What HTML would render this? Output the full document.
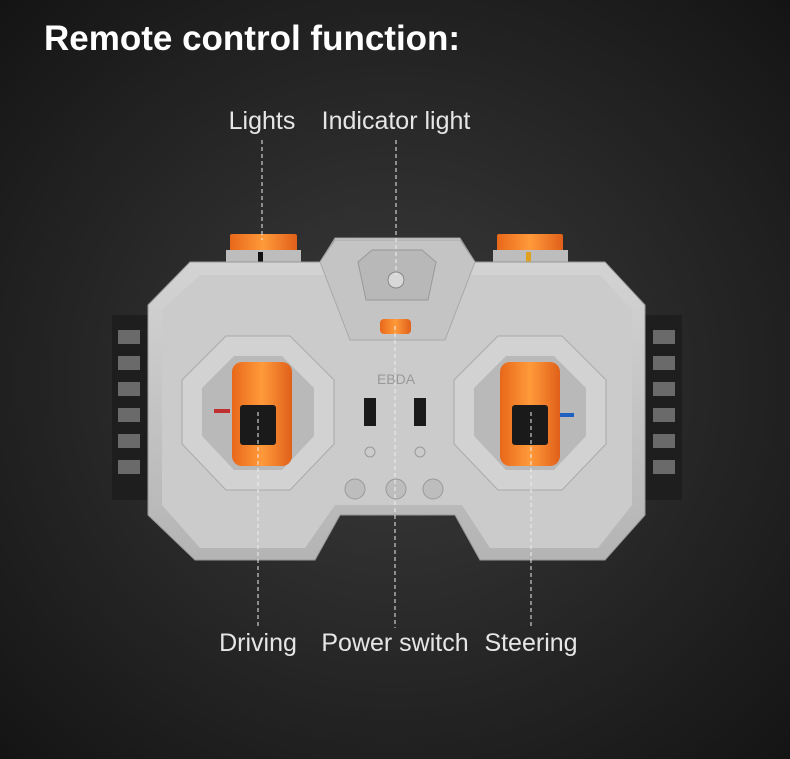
<!DOCTYPE html>
<html><head><style>
html,body{margin:0;padding:0;}
body{width:790px;height:759px;overflow:hidden;background:radial-gradient(ellipse at 50% 50%,#3c3c3c 0%,#2a2a2a 45%,#141414 100%);font-family:"Liberation Sans",sans-serif;position:relative;}
.t{position:absolute;left:44px;top:19px;color:#fff;font-weight:bold;font-size:35px;}
.l{position:absolute;color:#e6e6e6;font-size:25px;transform:translateX(-50%);white-space:nowrap;}
svg{position:absolute;left:0;top:0;}
</style></head><body>
<div class="t">Remote control function:</div>
<div class="l" style="left:262px;top:107px">Lights</div>
<div class="l" style="left:396px;top:107px">Indicator light</div>
<div class="l" style="left:258px;top:629px">Driving</div>
<div class="l" style="left:395px;top:629px">Power switch</div>
<div class="l" style="left:531px;top:629px">Steering</div>
<svg width="790" height="759" viewBox="0 0 790 759">
<defs>
<linearGradient id="g1" x1="0" y1="0" x2="0" y2="1"><stop offset="0" stop-color="#d6d6d6"/><stop offset="1" stop-color="#b4b4b4"/></linearGradient>
<linearGradient id="or" x1="0" y1="0" x2="1" y2="0"><stop offset="0" stop-color="#e8681a"/><stop offset="0.5" stop-color="#ff9a3a"/><stop offset="1" stop-color="#e0601a"/></linearGradient>
</defs>
<rect x="112" y="315" width="40" height="185" fill="#1e1e1e"/>
<rect x="640" y="315" width="42" height="185" fill="#1e1e1e"/>
<g fill="#6a6a6a">
<rect x="118" y="330" width="22" height="14"/><rect x="118" y="356" width="22" height="14"/><rect x="118" y="382" width="22" height="14"/><rect x="118" y="408" width="22" height="14"/><rect x="118" y="434" width="22" height="14"/><rect x="118" y="460" width="22" height="14"/>
<rect x="653" y="330" width="22" height="14"/><rect x="653" y="356" width="22" height="14"/><rect x="653" y="382" width="22" height="14"/><rect x="653" y="408" width="22" height="14"/><rect x="653" y="434" width="22" height="14"/><rect x="653" y="460" width="22" height="14"/>
</g>
<rect x="230" y="234" width="67" height="20" rx="2" fill="url(#or)"/>
<rect x="497" y="234" width="66" height="20" rx="2" fill="url(#or)"/>
<rect x="226" y="250" width="75" height="14" fill="#bdbdbd"/>
<rect x="493" y="250" width="75" height="14" fill="#bdbdbd"/>
<rect x="258" y="252" width="5" height="12" fill="#111"/>
<rect x="526" y="252" width="5" height="12" fill="#e0a020"/>
<polygon points="190,262 320,262 335,238 460,238 475,262 605,262 645,305 645,515 605,560 480,560 455,515 340,515 315,560 195,560 148,515 148,305" fill="url(#g1)" stroke="#999" stroke-width="1"/>
<polygon points="200,275 600,275 632,310 632,505 598,548 490,548 462,505 335,505 305,548 200,548 162,505 162,310" fill="#cbcbcb"/>
<polygon points="320,262 335,240 460,240 475,262 445,340 350,340" fill="#c4c4c4" stroke="#a8a8a8"/>
<polygon points="358,262 372,250 422,250 436,262 428,300 366,300" fill="#b8b8b8" stroke="#999"/>
<circle cx="396" cy="280" r="8" fill="#d8d8d8" stroke="#888"/>
<rect x="380" y="319" width="31" height="15" rx="4" fill="url(#or)"/>
<g>
<polygon points="226,336 290,336 334,380 334,444 290,490 226,490 182,444 182,380" fill="#d2d2d2" stroke="#aaa"/>
<polygon points="234,356 282,356 314,388 314,436 282,470 234,470 202,436 202,388" fill="#b9b9b9"/>
<rect x="232" y="362" width="60" height="104" rx="10" fill="url(#or)"/>
<rect x="240" y="405" width="36" height="40" rx="3" fill="#1a1a1a"/>
<rect x="214" y="409" width="16" height="4" fill="#c03030"/>
</g>
<g>
<polygon points="498,336 562,336 606,380 606,444 562,490 498,490 454,444 454,380" fill="#d2d2d2" stroke="#aaa"/>
<polygon points="506,356 554,356 586,388 586,436 554,470 506,470 474,436 474,388" fill="#b9b9b9"/>
<rect x="500" y="362" width="60" height="104" rx="10" fill="url(#or)"/>
<rect x="512" y="405" width="36" height="40" rx="3" fill="#1a1a1a"/>
<rect x="560" y="413" width="14" height="4" fill="#2060c0"/>
</g>
<text x="396" y="384" font-family="Liberation Sans" font-size="14" fill="#999" text-anchor="middle">EBDA</text>
<rect x="364" y="398" width="12" height="28" fill="#1a1a1a"/>
<rect x="414" y="398" width="12" height="28" fill="#1a1a1a"/>
<circle cx="370" cy="452" r="5" fill="none" stroke="#999"/>
<circle cx="420" cy="452" r="5" fill="none" stroke="#999"/>
<circle cx="355" cy="489" r="10" fill="#bdbdbd" stroke="#999"/>
<circle cx="396" cy="489" r="10" fill="#bdbdbd" stroke="#999"/>
<circle cx="433" cy="489" r="10" fill="#bdbdbd" stroke="#999"/>
<g stroke="#eee" stroke-width="1" stroke-dasharray="4,3">
<line x1="262" y1="140" x2="262" y2="240"/>
<line x1="396" y1="140" x2="396" y2="275"/>
<line x1="258" y1="412" x2="258" y2="628"/>
<line x1="395" y1="326" x2="395" y2="628"/>
<line x1="531" y1="412" x2="531" y2="628"/>
</g>
</svg>
</body></html>
